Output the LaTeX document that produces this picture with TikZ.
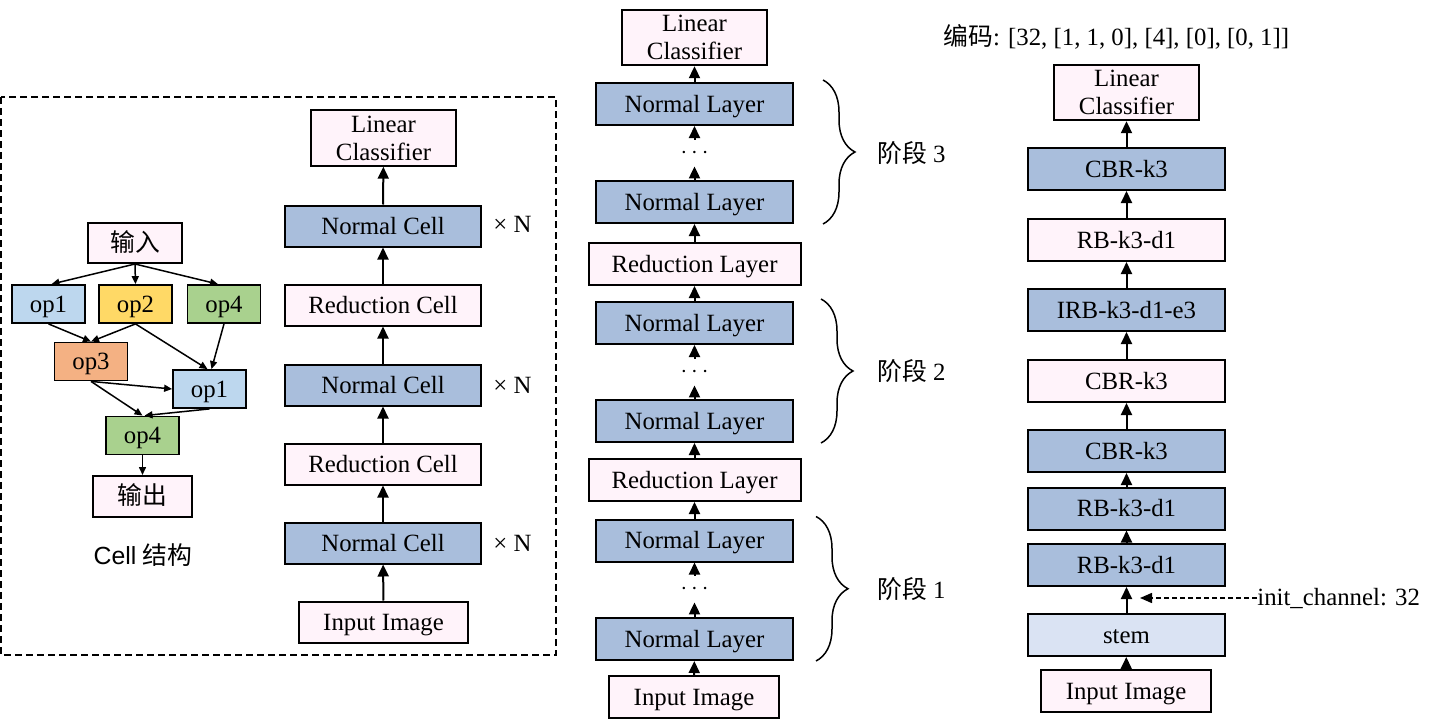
\documentclass[tikz,border=0pt]{standalone}
\usepackage{fontspec}
\setmainfont{Liberation Serif}
\newfontfamily\cjk{Noto Sans CJK SC}
\newfontfamily\arialfont{Liberation Sans}
\usepackage{tikz}
\usetikzlibrary{arrows.meta,decorations.pathreplacing}
\definecolor{layerblue}{RGB}{169,190,220}
\definecolor{layerpink}{RGB}{255,243,250}
\definecolor{stemblue}{RGB}{218,227,243}
\definecolor{oplblue}{RGB}{189,215,238}
\definecolor{opyellow}{RGB}{255,217,102}
\definecolor{opgreen}{RGB}{169,209,142}
\definecolor{oporange}{RGB}{244,177,131}

\begin{document}
\begin{tikzpicture}[x=0.5pt,y=0.5pt,font=\fontsize{12.4}{14}\selectfont,
  box/.style={draw,line width=1pt,inner sep=0pt,text height=11pt,text depth=2.7pt},
  twoline/.style={box,align=center,text height=25pt},
  opbox/.style={box,line width=0.9pt,minimum width=36.5pt,minimum height=19pt},
  arr/.style={line width=1pt,-{Triangle[length=6pt,width=5.5pt]}},
  oparr/.style={line width=0.75pt,-{Triangle[length=4pt,width=3.5pt]}},
  brc/.style={decorate,decoration={brace,amplitude=16pt},line width=0.75pt}]
  \useasboundingbox (0,0) rectangle (1448,-728);

  % ---- left panel: cell structure ----
  \draw[line width=1pt,dash pattern=on 3.5pt off 2pt] (1,-97) rectangle (556,-655);

  \node[box,fill=layerpink,minimum width=47pt,minimum height=20pt] (inp) at (135,-243) {\cjk 输入};
  \node[opbox,fill=oplblue] (opa) at (48.5,-304) {op1};
  \node[opbox,fill=opyellow] (opb) at (135.5,-304) {op2};
  \node[opbox,fill=opgreen] (opc) at (224,-304) {op4};
  \node[opbox,fill=oporange] (opd) at (91,-361.5) {op3};
  \node[opbox,fill=oplblue] (ope) at (209.5,-389) {op1};
  \node[opbox,fill=opgreen] (opf) at (142.5,-435.5) {op4};
  \node[box,fill=layerpink,minimum width=49.5pt,minimum height=20.5pt] (outp) at (142.5,-496.5) {\cjk 输出};
  \node (celltxt) at (143,-555) {{\arialfont Cell} {\cjk 结构}};

  \draw[oparr] (inp.south) -- ([xshift=1.5pt]opa.north);
  \draw[oparr] (inp.south) -- (opb.north);
  \draw[oparr] (inp.south) -- ([xshift=-3pt]opc.north);
  \draw[oparr] (opa.south) -- (opd.north);
  \draw[oparr] (opb.south) -- (opd.north);
  \draw[oparr] (opb.south) -- ([xshift=-1pt]ope.north);
  \draw[oparr] (opc.south) -- ([xshift=1pt]ope.north);
  \draw[oparr] (opd.south) -- (ope.west);
  \draw[oparr] (opd.south) -- (opf.north);
  \draw[oparr] (ope.south) -- ([xshift=1pt]opf.north);
  \draw[oparr] (opf.south) -- (outp.north);

  % ---- left panel: cell stack ----
  \node[twoline,fill=layerpink,minimum width=72.5pt,minimum height=27.5pt] (lin) at (383.5,-138) {Linear\\Classifier};
  \foreach \nm/\y/\lbl/\col in {nca/226/Normal Cell/layerblue,
                                 rca/305/Reduction Cell/layerpink,
                                 ncb/385/Normal Cell/layerblue,
                                 rcb/464/Reduction Cell/layerpink,
                                 ncc/543/Normal Cell/layerblue}{
    \node[box,fill=\col,minimum width=98pt,minimum height=20.5pt] (\nm) at (383,-\y) {\lbl};
  }
  \node[box,fill=layerpink,minimum width=84.5pt,minimum height=20.5pt] (img) at (383.5,-622) {Input Image};
  \foreach \y [count=\i] in {224,385,543}{
    \node[anchor=west,inner sep=0pt] (xn\i) at (493,-\y) {× N};
  }
  \draw[arr] (img) -- (ncc);
  \draw[arr] (ncc) -- (rcb);
  \draw[arr] (rcb) -- (ncb);
  \draw[arr] (ncb) -- (rca);
  \draw[arr] (rca) -- (nca);
  \draw[arr] (nca) -- (lin);

  % ---- middle: layer stages ----
  \node[twoline,fill=layerpink,minimum width=72.5pt,minimum height=27.5pt] (mlin) at (694.5,-37.5) {Linear\\Classifier};
  \foreach \nm/\y/\lbl/\col/\w in {mnla/104/Normal Layer/layerblue/98.5,
                                    mnlb/202/Normal Layer/layerblue/98.5,
                                    mrla/264/Reduction Layer/layerpink/106,
                                    mnlc/323/Normal Layer/layerblue/98.5,
                                    mnld/421/Normal Layer/layerblue/98.5,
                                    mrlb/480/Reduction Layer/layerpink/106,
                                    mnle/540.5/Normal Layer/layerblue/98.5,
                                    mnlf/639/Normal Layer/layerblue/98.5}{
    \node[box,fill=\col,minimum width=\w pt,minimum height=21pt] (\nm) at (694.5,-\y) {\lbl};
  }
  \node[box,fill=layerpink,minimum width=85pt,minimum height=21pt] (mimg) at (694,-697) {Input Image};
  \foreach \nm/\y in {mdta/153,mdtb/372,mdtc/589}{
    \node[inner sep=0pt,minimum height=13pt] (\nm) at (694.5,-\y) {$\cdots$};
  }
  \draw[arr] (mimg) -- (mnlf);
  \draw[arr] (mnlf) -- (mdtc);
  \draw[arr] (mdtc) -- (mnle);
  \draw[arr] (mnle) -- (mrlb);
  \draw[arr] (mrlb) -- (mnld);
  \draw[arr] (mnld) -- (mdtb);
  \draw[arr] (mdtb) -- (mnlc);
  \draw[arr] (mnlc) -- (mrla);
  \draw[arr] (mrla) -- (mnlb);
  \draw[arr] (mnlb) -- (mdta);
  \draw[arr] (mdta) -- (mnla);
  \draw[arr] (mnla) -- (mlin);

  % stage braces
  \draw[brc] ([xshift=14.5pt,yshift=1pt]mnla.north east) -- ([xshift=14.5pt]mnlb.south east);
  \draw[brc] ([xshift=13.5pt,yshift=1pt]mnlc.north east) -- ([xshift=13.5pt]mnld.south east);
  \draw[brc] ([xshift=11pt,yshift=1pt]mnle.north east) -- ([xshift=11pt]mnlf.south east);
  \node[anchor=west,inner sep=0pt] (stgc) at (877,-153) {{\cjk 阶段} 3};
  \node[anchor=west,inner sep=0pt] (stgb) at (877,-371) {{\cjk 阶段} 2};
  \node[anchor=west,inner sep=0pt] (stga) at (877,-589) {{\cjk 阶段} 1};

  % ---- right: searched network ----
  \node[anchor=west,inner sep=0pt] (code) at (943,-37) {{\cjk 编码}: [32, [1, 1, 0], [4], [0], [0, 1]]};
  \node[twoline,fill=layerpink,minimum width=72.5pt,minimum height=27.5pt] (rlin) at (1126.5,-92.5) {Linear\\Classifier};
  \foreach \nm/\y/\lbl/\col in {rcba/169/CBR-k3/layerblue,
                                 rrba/240/RB-k3-d1/layerpink,
                                 rirb/310/IRB-k3-d1-e3/layerblue,
                                 rcbb/381/CBR-k3/layerpink,
                                 rcbc/451/CBR-k3/layerblue,
                                 rrbb/508.5/RB-k3-d1/layerblue,
                                 rrbc/565/RB-k3-d1/layerblue,
                                 rstem/635/stem/stemblue}{
    \node[box,fill=\col,minimum width=98.5pt,minimum height=21pt] (\nm) at (1126.5,-\y) {\lbl};
  }
  \node[box,fill=layerpink,minimum width=85pt,minimum height=21pt] (rimg) at (1126,-691) {Input Image};
  \draw[arr] (rimg) -- (rstem);
  \draw[arr] (rstem) -- (rrbc);
  \draw[arr] (rrbc) -- (rrbb);
  \draw[arr] (rrbb) -- (rcbc);
  \draw[arr] (rcbc) -- (rcbb);
  \draw[arr] (rcbb) -- (rirb);
  \draw[arr] (rirb) -- (rrba);
  \draw[arr] (rrba) -- (rcba);
  \draw[arr] (rcba) -- (rlin);

  \node[anchor=west,inner sep=0pt] (ich) at (1257,-598) {init\_channel: 32};
  \coordinate (ichend) at (1140,-598);
  \draw[line width=0.75pt,dash pattern=on 2.5pt off 1.5pt,-{Triangle[length=6pt,width=5pt]}] (ich.west) -- (ichend);
\end{tikzpicture}
\end{document}
